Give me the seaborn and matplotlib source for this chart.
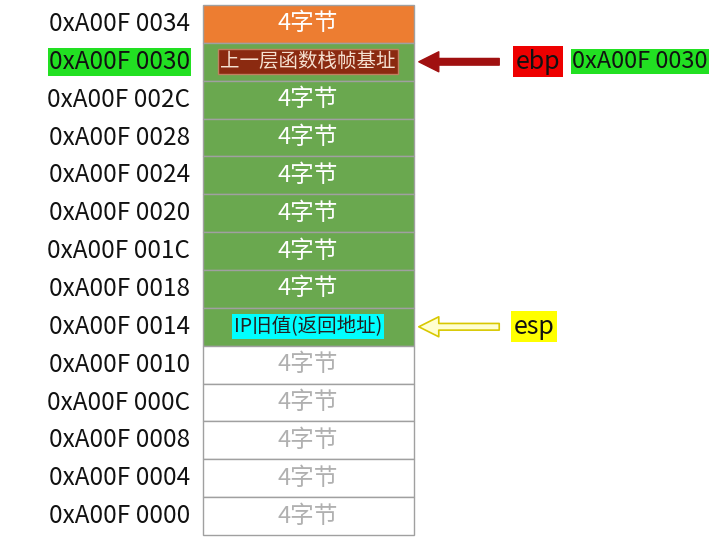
import matplotlib
matplotlib.use("Agg")
import matplotlib.pyplot as plt
import seaborn as sns

addresses = ["0xA00F 0034", "0xA00F 0030", "0xA00F 002C", "0xA00F 0028", "0xA00F 0024",
             "0xA00F 0020", "0xA00F 001C", "0xA00F 0018", "0xA00F 0014", "0xA00F 0010",
             "0xA00F 000C", "0xA00F 0008", "0xA00F 0004", "0xA00F 0000"]
cell_text = ["4字节", "上一层函数栈帧基址", "4字节", "4字节", "4字节", "4字节", "4字节",
             "4字节", "IP旧值(返回地址)", "4字节", "4字节", "4字节", "4字节", "4字节"]
cell_color = ["#ED7D31"] + ["#6AA84F"] * 8 + ["#FFFFFF"] * 5
text_color = ["#FFFFFF"] * 9 + ["#B0B0B0"] * 5
ebp_row, esp_row = 1, 8

sns.set_theme(style="white")
plt.rcParams['font.family'] = ['Noto Sans CJK SC', 'DejaVu Sans']

fig = plt.figure(figsize=(7.28, 5.58), dpi=100)
ax = fig.add_axes([0, 0, 1, 1])
rh = 530 / 14
ax.set_xlim(0, 728)
ax.set_ylim(13.5 + 23 / rh, -0.5 - 5 / rh)
ax.axis("off")

rows = list(range(len(addresses)))
ax.barh(rows, 211, left=203, height=1.0, color=cell_color, edgecolor="#A0A0A0", linewidth=1)

for i in rows:
    ax.text(190, i, addresses[i], ha="right", va="center", fontsize=17.5, color="#111111",
            bbox=dict(boxstyle="square,pad=0.05", fc="#22E022", ec="none") if i == ebp_row else None)
    if i == ebp_row:
        ax.text(308, i, cell_text[i], ha="center", va="center", fontsize=14, color="#F5E0D0",
                bbox=dict(boxstyle="square,pad=0.1", fc="#8B2A10", ec="#C08060"))
    elif i == esp_row:
        ax.text(308, i, cell_text[i], ha="center", va="center", fontsize=14, color="#222222",
                bbox=dict(boxstyle="square,pad=0.1", fc="#00FFFF", ec="none"))
    else:
        ax.text(308, i, cell_text[i], ha="center", va="center", fontsize=17, color=text_color[i])

# ebp arrow and labels
ax.annotate("", xy=(416, ebp_row), xytext=(502, ebp_row),
            arrowprops=dict(arrowstyle="simple,head_width=1.2,head_length=1.2,tail_width=0.4",
                            fc="#A01010", ec="#A01010"))
ax.text(538, ebp_row, "ebp", ha="center", va="center", fontsize=18, color="#111111",
        bbox=dict(boxstyle="square,pad=0.1", fc="#EE0000", ec="none"))
ax.text(640, ebp_row, "0xA00F 0030", ha="center", va="center", fontsize=17, color="#111111",
        bbox=dict(boxstyle="square,pad=0.05", fc="#22E022", ec="none"))

# esp arrow and label
ax.annotate("", xy=(416, esp_row), xytext=(502, esp_row),
            arrowprops=dict(arrowstyle="simple,head_width=1.2,head_length=1.2,tail_width=0.4",
                            fc="#FFFFD0", ec="#D8C800", lw=1.2))
ax.text(534, esp_row, "esp", ha="center", va="center", fontsize=18, color="#111111",
        bbox=dict(boxstyle="square,pad=0.1", fc="#FFFF00", ec="none"))

fig.savefig("out.png", dpi=100, facecolor="white")
